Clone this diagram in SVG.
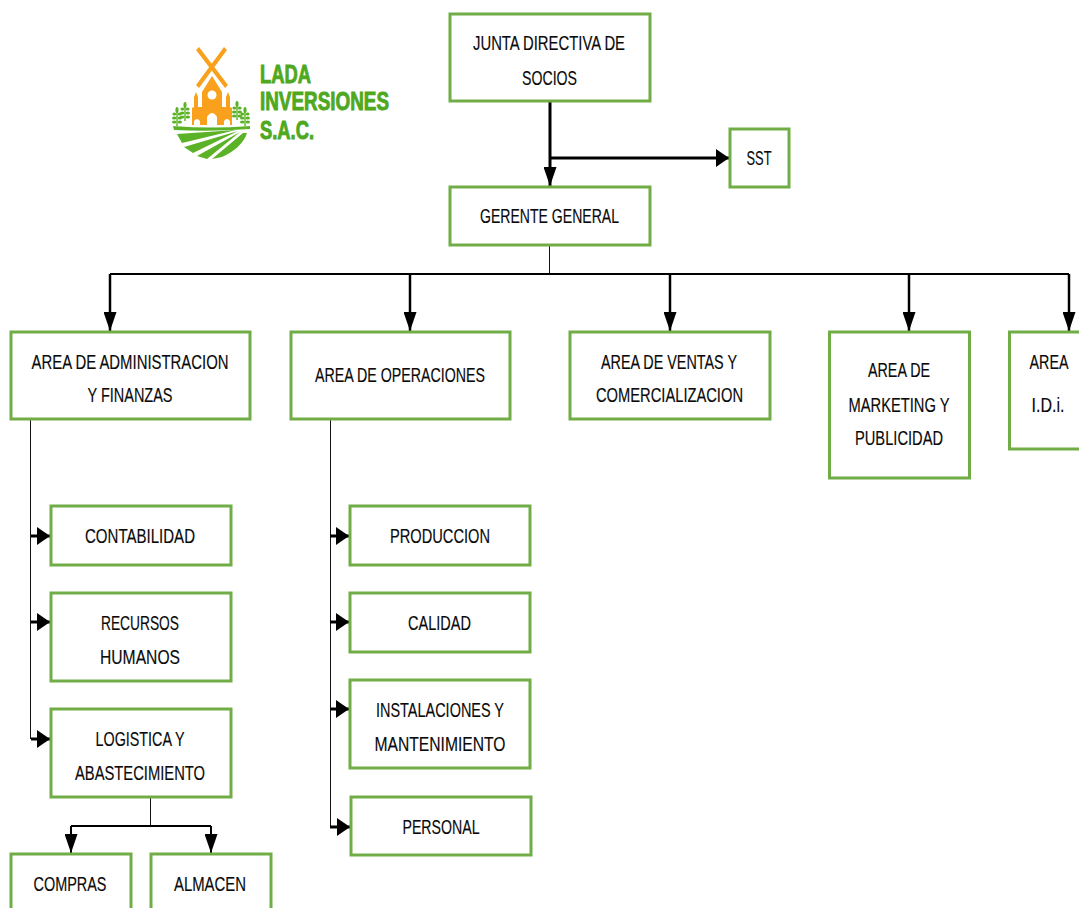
<svg xmlns="http://www.w3.org/2000/svg" width="1079" height="908" viewBox="0 0 1079 908">
<style>
.b{fill:#fff;stroke:#70ad47;stroke-width:3}
.t{font-family:"Liberation Sans",Arial,sans-serif;font-size:20px;fill:#0a0a0a;stroke:#0a0a0a;stroke-width:.15;text-anchor:middle}
.c{fill:none;stroke:#000;stroke-width:2}
.d{fill:none;stroke:#000;stroke-width:2.5}
.h{fill:none;stroke:#000;stroke-width:3}
.n{fill:none;stroke:#111;stroke-width:1}
.lg{font-family:"Liberation Sans",Arial,sans-serif;font-weight:700;font-size:25px;fill:#4fa81e;stroke:#4fa81e;stroke-width:.9}
.o{fill:#f9a11b}
.g{fill:#5cb226}
</style>
<defs>
<marker id="v" viewBox="0 0 14 14" refX="14" refY="7" markerUnits="userSpaceOnUse" markerWidth="19" markerHeight="13" orient="auto" preserveAspectRatio="none"><path d="M0 0L14 7L0 14z" fill="#000"/></marker>
<marker id="s" viewBox="0 0 14 14" refX="14" refY="7" markerUnits="userSpaceOnUse" markerWidth="13" markerHeight="18" orient="auto" preserveAspectRatio="none"><path d="M0 0L14 7L0 14z" fill="#000"/></marker>
<filter id="bl" x="-5%" y="-5%" width="110%" height="110%"><feGaussianBlur stdDeviation="0.6"/></filter>
<g id="wheat"><path d="M0 0V15" stroke="#5cb226" stroke-width="1.4" fill="none"/><ellipse cx="0" cy="-1" rx="1.6" ry="3" class="g"/><ellipse cx="-2.600" cy="3" rx="2" ry="1.500" class="g"/><ellipse cx="2.600" cy="3" rx="2" ry="1.500" class="g"/><ellipse cx="-2.800" cy="7" rx="2.200" ry="1.500" class="g"/><ellipse cx="2.800" cy="7" rx="2.200" ry="1.500" class="g"/><ellipse cx="-2.800" cy="11" rx="2.200" ry="1.500" class="g"/><ellipse cx="2.800" cy="11" rx="2.200" ry="1.500" class="g"/></g>
</defs>
<rect width="1079" height="908" fill="#fff"/>
<g id="logo">
<g filter="url(#bl)">
<path class="o" d="M196 50L199 47L228 85L225 88zM224 47L227 50L199 88L196 85z"/>
<path class="o" d="M212 76L222 92V107H226V97L228 92L230 97V107L232 108V125H192V108L194 107V97L196 92L198 97V107H202V92z"/>
<circle cx="212" cy="95" r="4.500" fill="#fff"/>
<path d="M207 125V117Q212 109 217 117V125z" fill="#fff"/>
<path d="M194 125V121Q197 117 200 121V125zM224 125V121Q227 117 230 121V125z" fill="#fff"/>
<use href="#wheat" x="185" y="106"/><use href="#wheat" x="177" y="111"/><use href="#wheat" x="237" y="105"/><use href="#wheat" x="245" y="111"/>
<path class="g" d="M173 126Q211 129 250 126L250 129Q211 132 174 130z"/>
<path class="g" d="M177 134L236 130L182 143zM184 147L238 131L193 153zM197 156L240 132L207 159zM212 159L243 133L247 133Q242 148 222 157z"/>
</g>
<text class="lg" x="260" y="83" textLength="51" lengthAdjust="spacingAndGlyphs">LADA</text>
<text class="lg" x="260" y="110" textLength="129" lengthAdjust="spacingAndGlyphs">INVERSIONES</text>
<text class="lg" x="260" y="139" textLength="54" lengthAdjust="spacingAndGlyphs">S.A.C.</text>
</g>
<g id="connectors">
<path class="h" d="M550 101V186" marker-end="url(#v)"/>
<path class="h" d="M550 158H729" marker-end="url(#s)"/>
<path class="n" d="M549.500 246V274"/>
<path class="c" d="M110 274H1069"/>
<path class="d" d="M110 274V331" marker-end="url(#v)"/>
<path class="d" d="M410 274V331" marker-end="url(#v)"/>
<path class="d" d="M670 274V331" marker-end="url(#v)"/>
<path class="d" d="M909 274V331" marker-end="url(#v)"/>
<path class="d" d="M1069 274V331" marker-end="url(#v)"/>
<path class="n" d="M30.500 420V739"/>
<path class="h" d="M31 536H50" marker-end="url(#s)"/>
<path class="h" d="M31 622H50" marker-end="url(#s)"/>
<path class="h" d="M31 739H50" marker-end="url(#s)"/>
<path class="n" d="M330.500 420V827"/>
<path class="h" d="M330 536H349" marker-end="url(#s)"/>
<path class="h" d="M330 622H349" marker-end="url(#s)"/>
<path class="h" d="M330 709H349" marker-end="url(#s)"/>
<path class="h" d="M330 827H350" marker-end="url(#s)"/>
<path class="n" d="M150.500 798V826"/>
<path class="c" d="M71 826H211"/>
<path class="c" d="M71 826V853" marker-end="url(#v)"/>
<path class="c" d="M211 826V853" marker-end="url(#v)"/>
</g>
<g id="junta"><rect class="b" x="450" y="14" width="200" height="87"/><text class="t" x="549" y="50" textLength="152" lengthAdjust="spacingAndGlyphs">JUNTA DIRECTIVA DE</text><text class="t" x="549.500" y="85" textLength="55" lengthAdjust="spacingAndGlyphs">SOCIOS</text></g>
<g id="sst"><rect class="b" x="730" y="129" width="59" height="58"/><text class="t" x="759" y="165" textLength="25" lengthAdjust="spacingAndGlyphs">SST</text></g>
<g id="gerente"><rect class="b" x="450" y="187" width="200" height="58"/><text class="t" x="549.500" y="223" textLength="139" lengthAdjust="spacingAndGlyphs">GERENTE GENERAL</text></g>
<g id="admin"><rect class="b" x="11" y="332" width="239" height="87"/><text class="t" x="130" y="369" textLength="197" lengthAdjust="spacingAndGlyphs">AREA DE ADMINISTRACION</text><text class="t" x="130" y="402" textLength="85" lengthAdjust="spacingAndGlyphs">Y FINANZAS</text></g>
<g id="operaciones"><rect class="b" x="291" y="332" width="219" height="87"/><text class="t" x="400" y="382" textLength="170" lengthAdjust="spacingAndGlyphs">AREA DE OPERACIONES</text></g>
<g id="ventas"><rect class="b" x="570" y="332" width="200" height="87"/><text class="t" x="669" y="369" textLength="136" lengthAdjust="spacingAndGlyphs">AREA DE VENTAS Y</text><text class="t" x="669.500" y="402" textLength="147" lengthAdjust="spacingAndGlyphs">COMERCIALIZACION</text></g>
<g id="marketing"><rect class="b" x="829.500" y="332" width="140" height="146"/><text class="t" x="899" y="377" textLength="62" lengthAdjust="spacingAndGlyphs">AREA DE</text><text class="t" x="899" y="412" textLength="101" lengthAdjust="spacingAndGlyphs">MARKETING Y</text><text class="t" x="899" y="445" textLength="88" lengthAdjust="spacingAndGlyphs">PUBLICIDAD</text></g>
<g id="idi"><path class="b" d="M1079 332H1009.500V449H1079"/><text class="t" x="1049" y="369" textLength="39" lengthAdjust="spacingAndGlyphs">AREA</text><text class="t" x="1048" y="412" textLength="33" lengthAdjust="spacingAndGlyphs">I.D.i.</text></g>
<g id="contabilidad"><rect class="b" x="51" y="506" width="180" height="59"/><text class="t" x="140" y="543" textLength="110" lengthAdjust="spacingAndGlyphs">CONTABILIDAD</text></g>
<g id="rrhh"><rect class="b" x="51" y="593" width="180" height="88"/><text class="t" x="140" y="630" textLength="78" lengthAdjust="spacingAndGlyphs">RECURSOS</text><text class="t" x="140" y="664" textLength="80" lengthAdjust="spacingAndGlyphs">HUMANOS</text></g>
<g id="logistica"><rect class="b" x="51" y="709" width="180" height="88"/><text class="t" x="140" y="746" textLength="89" lengthAdjust="spacingAndGlyphs">LOGISTICA Y</text><text class="t" x="140" y="780" textLength="130" lengthAdjust="spacingAndGlyphs">ABASTECIMIENTO</text></g>
<g id="compras"><rect class="b" x="11" y="854" width="120" height="70"/><text class="t" x="70" y="891" textLength="73" lengthAdjust="spacingAndGlyphs">COMPRAS</text></g>
<g id="almacen"><rect class="b" x="151" y="854" width="120" height="70"/><text class="t" x="210" y="891" textLength="72" lengthAdjust="spacingAndGlyphs">ALMACEN</text></g>
<g id="produccion"><rect class="b" x="350" y="506" width="180" height="59"/><text class="t" x="440" y="543" textLength="100" lengthAdjust="spacingAndGlyphs">PRODUCCION</text></g>
<g id="calidad"><rect class="b" x="350" y="593" width="180" height="59"/><text class="t" x="439.500" y="630" textLength="63" lengthAdjust="spacingAndGlyphs">CALIDAD</text></g>
<g id="instalaciones"><rect class="b" x="350" y="680" width="180" height="88"/><text class="t" x="440" y="717" textLength="128" lengthAdjust="spacingAndGlyphs">INSTALACIONES Y</text><text class="t" x="440" y="751" textLength="131" lengthAdjust="spacingAndGlyphs">MANTENIMIENTO</text></g>
<g id="personal"><rect class="b" x="351" y="797" width="180" height="58"/><text class="t" x="441" y="834" textLength="77" lengthAdjust="spacingAndGlyphs">PERSONAL</text></g>
</svg>
